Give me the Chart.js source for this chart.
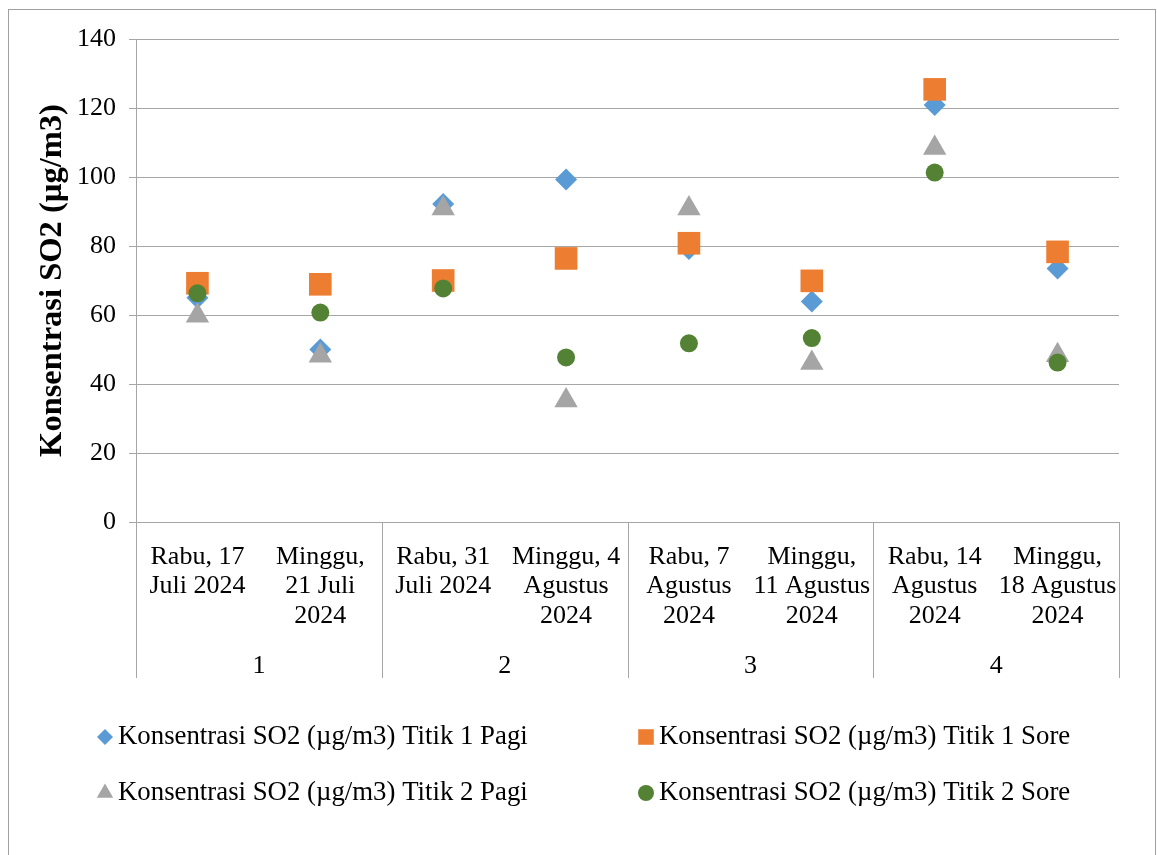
<!DOCTYPE html>
<html>
<head>
<meta charset="utf-8">
<script src="https://cdn.jsdelivr.net/npm/chart.js@4/dist/chart.umd.min.js"></script>
<style>
html,body{margin:0;padding:0;background:#fff;}
#wrap{width:1157px;height:855px;position:relative;}
</style>
</head>
<body>
<div id="wrap"><canvas id="c" width="1157" height="855"></canvas></div>
<script>
// ---- data ----
const categories = [
  ["Rabu, 17", "Juli 2024"],
  ["Minggu,", "21 Juli", "2024"],
  ["Rabu, 31", "Juli 2024"],
  ["Minggu, 4", "Agustus", "2024"],
  ["Rabu, 7", "Agustus", "2024"],
  ["Minggu,", "11 Agustus", "2024"],
  ["Rabu, 14", "Agustus", "2024"],
  ["Minggu,", "18 Agustus", "2024"]
];
const weekLabels = ["1", "2", "3", "4"];
const seriesNames = [
  "Konsentrasi SO2 (µg/m3) Titik 1 Pagi",
  "Konsentrasi SO2 (µg/m3) Titik 1 Sore",
  "Konsentrasi SO2 (µg/m3) Titik 2 Pagi",
  "Konsentrasi SO2 (µg/m3) Titik 2 Sore"
];
const titik1Pagi = [65.0, 50.0, 92.2, 99.3, 79.1, 63.9, 120.9, 73.5];
const titik1Sore = [69.2, 68.9, 70.0, 76.4, 80.8, 69.9, 125.4, 78.3];
const titik2Pagi = [59.8, 48.2, 90.9, 35.2, 90.9, 46.1, 108.4, 48.3];
const titik2Sore = [66.3, 60.7, 67.7, 47.7, 51.8, 53.3, 101.3, 46.2];
const yAxisTitle = "Konsentrasi SO2 (µg/m3)";
const yMin = 0, yMax = 140, yStep = 20;

// ---- styles ----
const FONT = "'Liberation Serif', 'Times New Roman', serif";
const GRID = "#a6a6a6";

const datasets = [
  {label: seriesNames[0], data: titik1Pagi, pointStyle: 'rectRot', pointRadius: 11, color: '#5b9bd5', order: 4, legendR: 8},
  {label: seriesNames[1], data: titik1Sore, pointStyle: 'rect', pointRadius: 16, color: '#ed7d31', order: 3, legendR: 11},
  {label: seriesNames[2], data: titik2Pagi, pointStyle: 'triangle', pointRadius: 13.5, color: '#a5a5a5', order: 2, legendR: 9.5},
  {label: seriesNames[3], data: titik2Sore, pointStyle: 'circle', pointRadius: 9, color: '#548235', order: 1, legendR: 8}
].map(d => ({
  label: d.label, data: d.data, showLine: false, order: d.order,
  pointStyle: d.pointStyle, pointRadius: d.pointRadius, pointHoverRadius: d.pointRadius,
  pointBackgroundColor: d.color, pointBorderColor: d.color, pointBorderWidth: 0,
  backgroundColor: d.color, borderColor: d.color, legendR: d.legendR
}));

const frame = {
  id: 'frame',
  beforeDraw(chart) {
    const ctx = chart.ctx;
    ctx.save();
    ctx.fillStyle = '#fff';
    ctx.fillRect(0, 0, chart.width, chart.height);
    ctx.strokeStyle = '#a0a0a0';
    ctx.lineWidth = 1;
    ctx.strokeRect(8.5, 9.5, 1147, 900);
    ctx.restore();
  }
};

const groupLines = {
  id: 'groupLines',
  afterDraw(chart) {
    const x = chart.scales.x, x2 = chart.scales.x2;
    const ctx = chart.ctx;
    ctx.save();
    ctx.strokeStyle = GRID;
    ctx.lineWidth = 1;
    [-0.5, 1.5, 3.5, 5.5, 7.5].forEach(b => {
      const px = Math.round(x.getPixelForValue(b)) + 0.5;
      ctx.beginPath();
      ctx.moveTo(px, chart.chartArea.bottom);
      ctx.lineTo(px, x2.bottom);
      ctx.stroke();
    });
    ctx.restore();
  }
};

const customLegend = {
  id: 'customLegend',
  afterDraw(chart) {
    const ctx = chart.ctx;
    const pos = [[105, 737], [646, 737], [105, 793], [646, 793]];
    ctx.save();
    ctx.font = "26.8px " + FONT;
    ctx.textBaseline = 'middle';
    ctx.textAlign = 'left';
    chart.data.datasets.forEach((ds, i) => {
      const [cx, cy] = pos[i];
      ctx.fillStyle = ds.pointBackgroundColor;
      ctx.strokeStyle = ds.pointBorderColor;
      Chart.helpers.drawPoint(ctx, {pointStyle: ds.pointStyle, radius: ds.legendR, borderWidth: 0, rotation: 0}, cx, cy);
      ctx.fillStyle = '#000';
      ctx.fillText(ds.label, cx + 13, cy);
    });
    ctx.restore();
  }
};

new Chart(document.getElementById('c'), {
  type: 'line',
  data: {labels: categories, datasets: datasets},
  options: {
    responsive: false,
    animation: false,
    devicePixelRatio: 1,
    layout: {padding: {left: 10, right: 38, top: 39, bottom: 177}},
    plugins: {legend: {display: false}, tooltip: {enabled: false}},
    scales: {
      x: {
        type: 'category',
        offset: true,
        weight: 0,
        grid: {display: false, drawTicks: false},
        border: {display: true, color: GRID},
        ticks: {color: '#000', font: {family: FONT, size: 26, lineHeight: 1.135}, padding: 20, maxRotation: 0, autoSkip: false},
        afterFit(s) { s.height = 125; }
      },
      x2: {
        type: 'category',
        position: 'bottom',
        labels: weekLabels,
        offset: true,
        weight: 1,
        grid: {display: false, drawTicks: false},
        border: {display: false},
        ticks: {color: '#000', font: {family: FONT, size: 26, lineHeight: 1.135}, padding: 4, maxRotation: 0},
        afterFit(s) { s.height = 31; }
      },
      y: {
        min: yMin, max: yMax,
        ticks: {stepSize: yStep, color: '#000', font: {family: FONT, size: 26}, padding: 13},
        grid: {color: GRID, lineWidth: 1, drawTicks: true, tickLength: 7, tickColor: GRID},
        border: {display: true, color: GRID},
        title: {display: true, text: yAxisTitle, color: '#000', font: {family: FONT, size: 32.5, weight: 'bold', lineHeight: 1.2}, padding: {top: 23, bottom: 0}},
        afterFit(s) { s.width = 126; }
      }
    }
  },
  plugins: [frame, groupLines, customLegend]
});
</script>
</body>
</html>
